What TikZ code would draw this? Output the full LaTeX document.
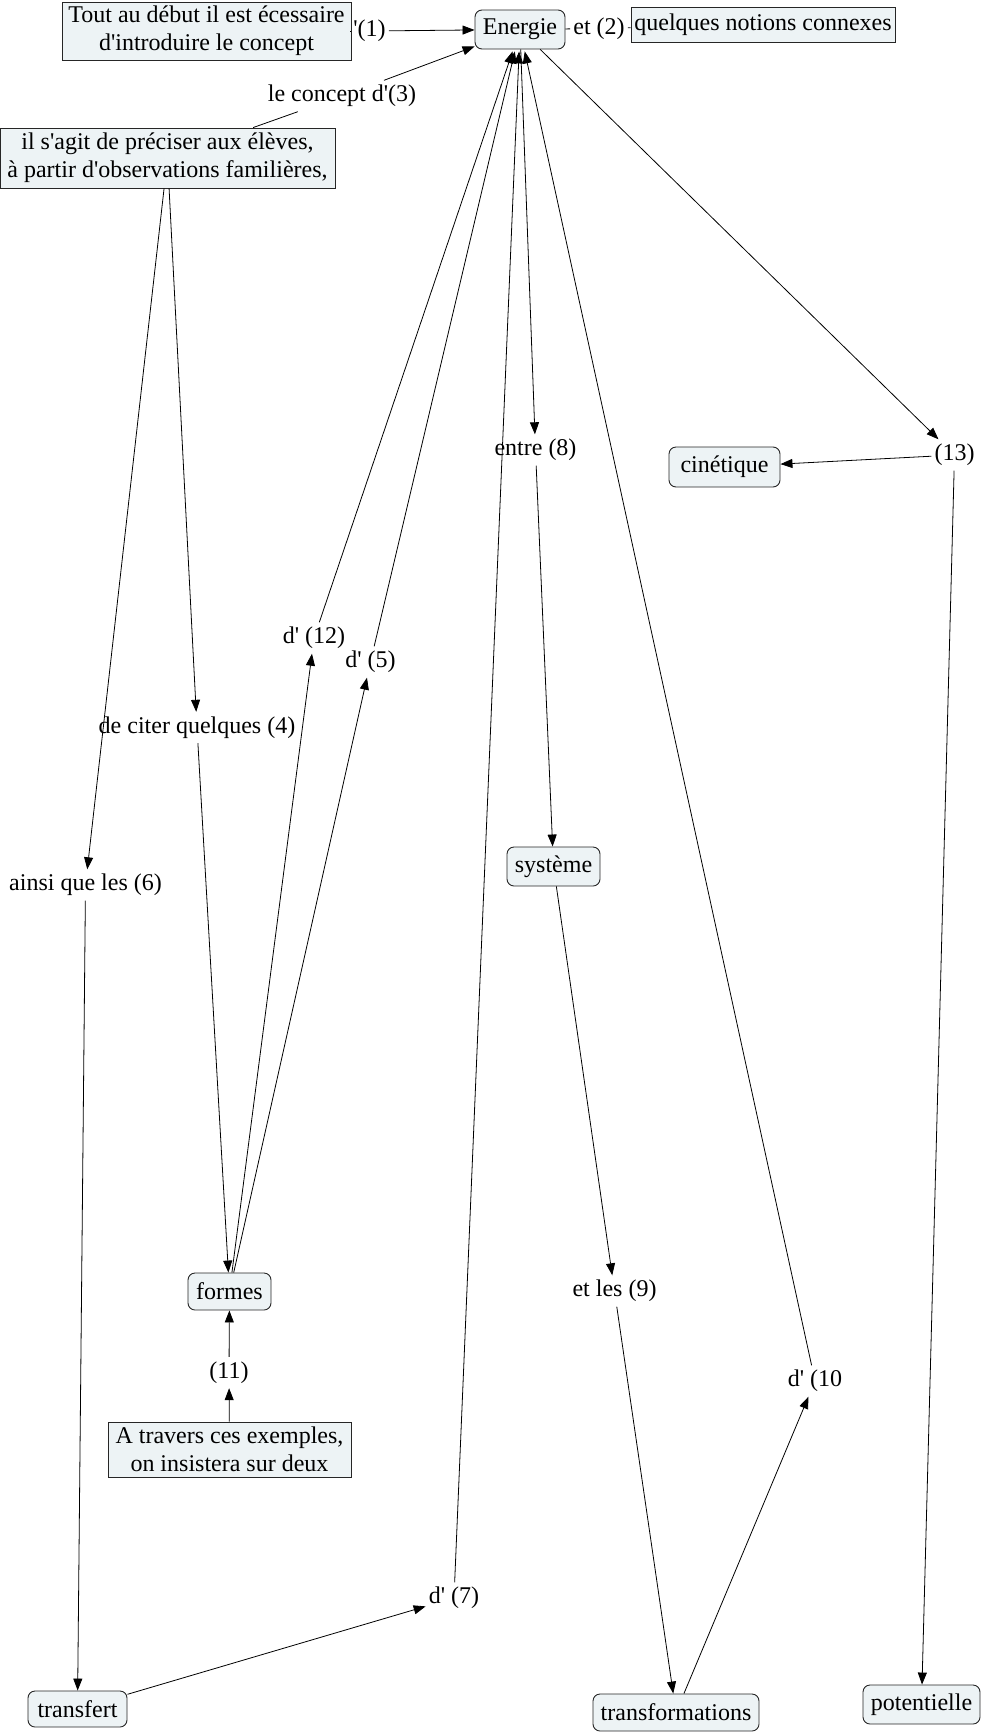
\documentclass[tikz,border=0pt]{standalone}
\usepackage{fontspec}
\setmainfont{Liberation Serif}[Ligatures=TeXOff]
\usetikzlibrary{arrows.meta}
\definecolor{boxfill}{RGB}{237,243,245}
\tikzset{
  base/.style={font=\fontsize{24}{27.6}\selectfont},
  concept/.style={base, draw=black!85, fill=boxfill, line width=0.9pt, inner sep=0pt, align=center},
  rbox/.style={concept, rounded corners=7pt},
  sbox/.style={concept},
  lbl/.style={base, inner xsep=3pt, inner ysep=4pt, text height=17pt, text depth=6pt, yshift=-3pt},
  link/.style={line width=0.8pt, draw=black},
  arr/.style={link, -{Triangle[length=12pt,width=9pt]}},
}
\begin{document}
\begin{tikzpicture}[x=1pt,y=-1pt]
\useasboundingbox (0,0) rectangle (984,1732);
% concepts
\node[sbox, minimum width=289pt, minimum height=58pt] (intro) at (206.5,31) {Tout au début il est écessaire\\d'introduire le concept};
\node[rbox, minimum width=90pt, minimum height=39pt] (energie) at (520,29.5) {Energie};
\node[sbox, minimum width=264pt, minimum height=35pt] (notions) at (763,24.5) {quelques notions connexes};
\node[sbox, minimum width=335pt, minimum height=60pt] (agit) at (167.5,158) {il s'agit de préciser aux élèves,\\à partir d'observations familières,};
\node[sbox, minimum width=243pt, minimum height=55pt] (travers) at (229.5,1449.5) {A travers ces exemples,\\on insistera sur deux};
\node[rbox, minimum width=111pt, minimum height=40pt] (cinetique) at (724.5,467) {cinétique};
\node[rbox, minimum width=93pt, minimum height=39pt] (systeme) at (553.5,866.5) {système};
\node[rbox, minimum width=83pt, minimum height=37pt] (formes) at (229.5,1291.5) {formes};
\node[rbox, minimum width=99pt, minimum height=36pt] (transfert) at (77.5,1709) {transfert};
\node[rbox, minimum width=166pt, minimum height=37pt] (transfo) at (676,1712.5) {transformations};
\node[rbox, minimum width=117pt, minimum height=39pt] (potentielle) at (921.5,1704.5) {potentielle};
% linking phrases
\node[lbl] (l1) at (369.5,28) {'(1)};
\node[lbl] (l2) at (599,25.5) {et (2)};
\node[lbl] (l3) at (342,93) {le concept d'(3)};
\node[lbl] (l4) at (197,724.5) {de citer quelques (4)};
\node[lbl] (l5) at (370.5,659) {d' (5)};
\node[lbl] (l6) at (85.5,882) {ainsi que les (6)};
\node[lbl] (l7) at (454,1595) {d' (7)};
\node[lbl] (l8) at (535.5,447) {entre (8)};
\node[lbl] (l9) at (614.5,1288) {et les (9)};
\node[lbl] (l10) at (815,1378) {d' (10};
\node[lbl] (l11) at (229,1369.5) {(11)};
\node[lbl] (l12) at (314,635) {d' (12)};
\node[lbl] (l13) at (954.5,452) {(13)};
% connectors
\draw[link] (intro) -- (l1);
\draw[arr] (l1) -- (energie);
\draw[link] (energie) -- (l2);
\draw[link] (l2) -- (notions);
\draw[link] (agit) -- (l3);
\draw[arr] (l3) -- (energie);
\draw[arr] (agit) -- (l4);
\draw[arr] (agit) -- (l6);
\draw[arr] (l4) -- (formes);
\draw[arr] (l6) -- (transfert);
\draw[arr] (formes) -- (l12);
\draw[arr, shorten >=2pt] (l12) -- (energie);
\draw[arr] (formes) -- (l5);
\draw[arr, shorten >=2pt] (l5) -- (energie);
\draw[arr] (travers) -- (l11);
\draw[arr] (l11) -- (formes);
\draw[arr] (transfert) -- (l7);
\draw[arr, shorten >=2pt] (l7) -- (energie);
\draw[arr] (energie) -- (l8);
\draw[arr] (l8) -- (systeme);
\draw[arr] (systeme) -- (l9);
\draw[arr] (l9) -- (transfo);
\draw[arr] (transfo) -- (l10);
\draw[arr, shorten >=2pt] (l10) -- (energie);
\draw[arr] (energie) -- (l13);
\draw[arr] (l13) -- (cinetique);
\draw[arr] (l13) -- (potentielle);
\end{tikzpicture}
\end{document}
